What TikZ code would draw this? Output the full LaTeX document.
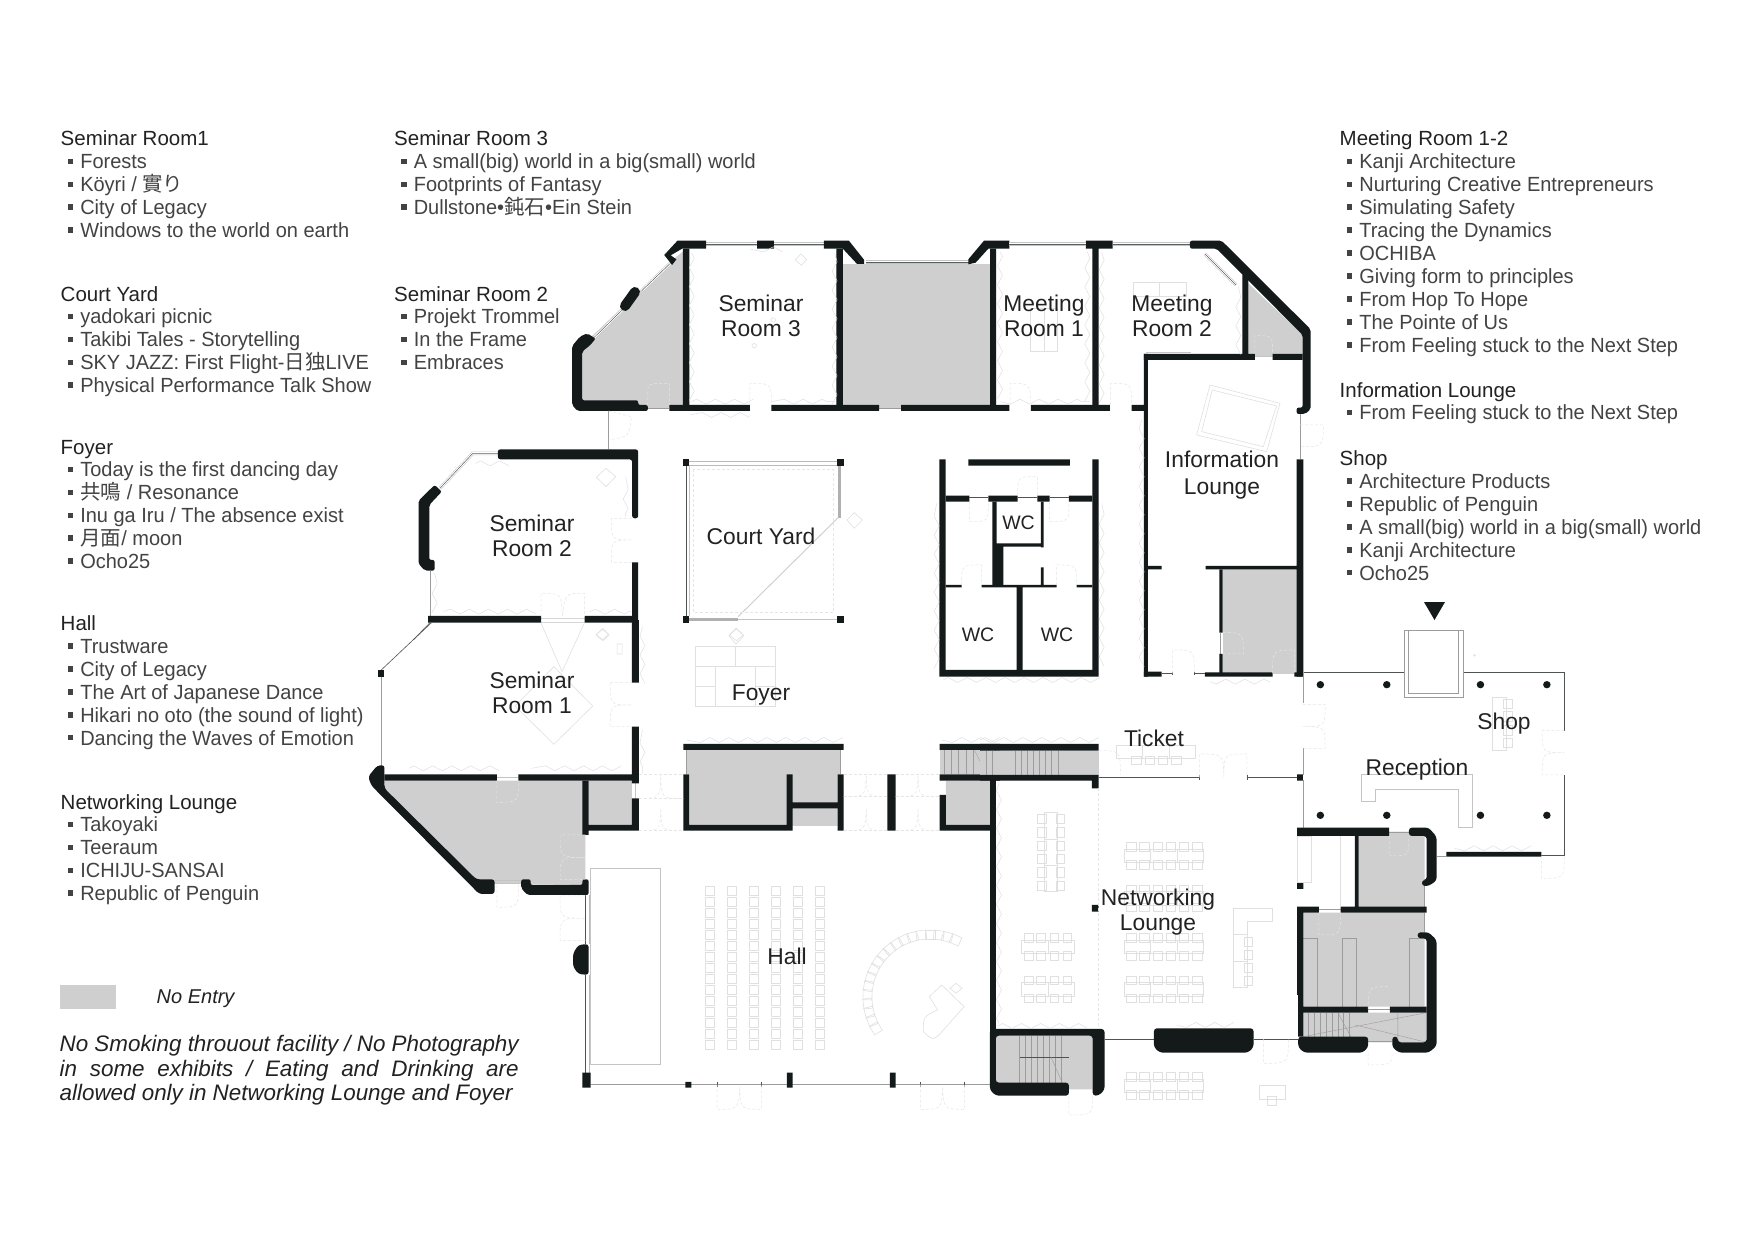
\documentclass[tikz,border=0pt]{standalone}
\usepackage{fontspec}
\setmainfont{Liberation Sans}
\newfontfamily\listfont[FakeStretch = 0.975]{Liberation Sans}
\newfontfamily\cjk{Noto Sans CJK JP}
\usetikzlibrary{decorations.pathmorphing}

\definecolor{wallc}{HTML}{141A1A}
\definecolor{nogoc}{HTML}{CFCFCF}
\definecolor{linec}{HTML}{9C9C9C}
\definecolor{faintc}{HTML}{E0E0E0}
\definecolor{doorc}{HTML}{E6E6E6}
\definecolor{textc}{HTML}{222222}

\tikzset{
	wall/.style = {fill = wallc, draw = none},
	wallline/.style = {draw = wallc, line join = round},
	thin line/.style = {draw = linec, line width = 0.9pt},
	dark line/.style = {draw = wallc!75, line width = 0.6pt},
	glass/.style = {draw = linec!60, line width = 3.4pt, postaction = {draw = white, line width = 2.4pt}, postaction = {draw = wallc!70, line width = 0.5pt}},
	furn/.style = {draw = faintc, line width = 0.6pt},
	door/.style = {draw = doorc, line width = 0.5pt, densely dashed},
	curtain/.style = {draw = faintc, line width = 0.5pt, decorate, decoration = {zigzag, segment length = 19pt, amplitude = 2.5pt}},
	tread/.style = {draw = linec, line width = 0.4pt},
	room/.style = {font = \fontsize{22.8}{25}\selectfont, text = textc, align = center, inner sep = 0pt},
	wc/.style = {font = \fontsize{19.5}{22}\selectfont, text = textc, inner sep = 0pt},
	listhead/.style = {anchor = base west, font = \fontsize{20.5}{23}\selectfont, text = textc, inner sep = 0pt},
	listitem/.style = {anchor = base west, font = \listfont\fontsize{20.5}{23}\selectfont, text = textc!85, inner sep = 0pt},
	note/.style = {anchor = base west, font = \fontsize{22.4}{24.6}\itshape, text = textc, inner sep = 0pt},
	partnw/.style = {shift = {(340,220)}, xscale = 0.3571, yscale = 0.3333},
	partne/.style = {shift = {(880,220)}, xscale = 0.3333, yscale = 0.3333},
	partsw/.style = {shift = {(360,620)}, xscale = 0.4082, yscale = 0.3333},
	partse/.style = {shift = {(980,640)}, xscale = 0.3953, yscale = 0.3333},
}

\newcommand{\itembox}{\rule[4.6pt]{5.6pt}{5.6pt}\hspace{7pt}}
\newcommand{\roomlist}[5]{%
	\node[listhead] (#3) at (#1, #2) {#4};
	\foreach \txt[count = \i] in {#5}
		\node[listitem] (#3\i) at ({#1 + 7}, {#2 + \i * 22.9}) {\itembox\txt};
}
% one table with chairs above and below, x is the left end
\newcommand{\tablerow}[2]{%
	\draw[furn] (#1, #2 - 20) rectangle ++(200, 40) (#1 + 65, #2 - 20) -- ++(0, 40) (#1 + 134, #2 - 20) -- ++(0, 40);
	\foreach \c in {5, 38, 72, 105, 138, 172} {
		\draw[furn] (#1 + \c, #2 - 40) rectangle ++(24, 26);
		\draw[furn] (#1 + \c, #2 + 14) rectangle ++(24, 26);
	}
}
\newcommand{\tableshort}[2]{%
	\draw[furn] (#1, #2 - 20) rectangle ++(134, 40) (#1 + 68, #2 - 20) -- ++(0, 40);
	\foreach \c in {7, 38, 72, 105} {
		\draw[furn] (#1 + \c, #2 - 40) rectangle ++(22, 26);
		\draw[furn] (#1 + \c, #2 + 14) rectangle ++(22, 26);
	}
}

\begin{document}
\begin{tikzpicture}[x = 1pt, y = -1pt]

\useasboundingbox (0,0) rectangle (1755, 1241);
\fill[white] (0,0) rectangle (1755, 1241);

% lists
\roomlist{60.5}{146}{srone}{Seminar Room1}{Forests, Köyri / {\cjk 實り}, City of Legacy, Windows to the world on earth}
\roomlist{60.5}{301}{court}{Court Yard}{yadokari picnic, Takibi Tales - Storytelling, SKY JAZZ: First Flight-{\cjk 日独}LIVE, Physical Performance Talk Show}
\roomlist{60.5}{454}{foyer}{Foyer}{Today is the first dancing day, {\cjk 共鳴} / Resonance, Inu ga Iru / The absence exist, {\cjk 月面}/ moon, Ocho25}
\roomlist{60.5}{630.5}{hall}{Hall}{Trustware, City of Legacy, The Art of Japanese Dance, Hikari no oto (the sound of light), Dancing the Waves of Emotion}
\roomlist{60.5}{809}{net}{Networking Lounge}{Takoyaki, Teeraum, ICHIJU-SANSAI, Republic of Penguin}
\roomlist{394}{146}{srthree}{Seminar Room 3}{A small(big) world in a big(small) world, Footprints of Fantasy, Dullstone•{\cjk 鈍石}•Ein Stein}
\roomlist{394}{301}{srtwo}{Seminar Room 2}{Projekt Trommel, In the Frame, Embraces}
\roomlist{1339.5}{146}{meet}{Meeting Room 1-2}{Kanji Architecture, Nurturing Creative Entrepreneurs, Simulating Safety, Tracing the Dynamics, OCHIBA, Giving form to principles, From Hop To Hope, The Pointe of Us, From Feeling stuck to the Next Step}
\roomlist{1339.5}{397}{info}{Information Lounge}{From Feeling stuck to the Next Step}
\roomlist{1339.5}{465.5}{shop}{Shop}{Architecture Products, Republic of Penguin, A small(big) world in a big(small) world, Kanji Architecture, Ocho25}

\fill[nogoc] (60,985) rectangle (116, 1008.5);
\node[note, font = \fontsize{20}{23}\itshape] (noentry) at (156.5, 1003) {No Entry};
\node[note] (rule1) at (59.5, 1051.5) {\makebox[459pt][s]{No Smoking throuout facility / No Photography}};
\node[note] (rule2) at (59.5, 1076) {\makebox[459pt][s]{in some exhibits / Eating and Drinking are}};
\node[note] (rule3) at (59.5, 1100.5) {\makebox[453pt][s]{allowed only in Networking Lounge and Foyer}};

% middle room, shared by two parts
\fill[nogoc] (843,264) rectangle (990, 408);
\draw[thin line] (843,408) -- (901,408);
\draw[glass] (866,262) -- (970,262);

% chairs round the piano
\foreach \a in {150, 158, ..., 296}
	\draw[furn, shift = {(930,997)}, rotate = -\a] (58,-5) rectangle (67,5);

% north west
\begin{scope}[partnw]
\fill[nogoc] (665,390) -- (925,125) -- (960,95) -- (960,565) -- (660,565) -- cycle;
\draw[glass] (1025,72) -- (1355,72);
\draw[glass] (925,130) -- (845,212) (792,268) -- (712,352);
\draw[glass] (280,805) -- (372,700) -- (442,700);
\draw[thin line] (862,565) -- (922,565) (752,573) -- (752,688) (253,1052) -- (253,1190);
\draw[thin line, draw = linec!40] (563,1195) -- (685,1195) (563,1207) -- (685,1207);
\draw[dark line] (252,1208) -- (205,1260);
\fill[wall] (1025,62) -- (945,62) -- (908,105) -- (930,135) -- (942,118) -- (926,106) -- (958,86) -- (1025,86) -- cycle;
\fill[wall] (960,86) rectangle (978,555) (1168,62) rectangle (1215,86) (1390,86) rectangle (1408,555);
\fill[wall] (1355,62) -- (1425,62) -- (1468,120) -- (1468,132) -- (1448,132) -- (1408,86) -- (1355,86) -- cycle;
\draw[wallline, line width = 10pt, line cap = round] (826,216) -- (798,258);
\fill[wall, rounded corners = 2pt] (716,356) -- (692,340) -- (672,350) -- (650,378) -- (650,555) -- (665,573) -- (862,573) -- (862,555) -- (835,555) -- (835,541) -- (678,541) -- (678,395) -- (700,376) -- cycle;
\fill[wall] (922,555) rectangle (1148,573) (1208,555) rectangle (1510,573);
\fill[wall, rounded corners = 2.5pt] (442,688) -- (835,688) -- (835,895) -- (818,895) -- (818,718) -- (442,718) -- cycle;
\fill[wall] (818,1027) rectangle (835,1260) (247,1188) rectangle (563,1208) (685,1188) rectangle (825,1208);
\fill[wall, rounded corners = 2pt] (265,795) -- (285,815) -- (250,855) -- (250,1020) -- (265,1020) -- (265,1052) -- (238,1052) -- (220,1032) -- (220,842) -- cycle;
\foreach \x/\y in {960/718, 1392/718, 960/1188, 1392/1188}
	\fill[wall] (\x,\y) rectangle ++(18,20);
\draw[thin line, draw = linec!70] (978,724) -- (1392,724) (978,735) -- (1392,735);
\draw[dark line] (970,738) -- (970,1188);
\draw[thin line, draw = linec!60] (978,738) -- (978,1188) (1115,1198) -- (1392,1198);
\draw[line width = 3pt, draw = linec!80] (1400,738) -- (1400,893) (978,1198) -- (1115,1198);
\draw[thin line, draw = linec!50] (1115,1190) -- (1395,893);
\draw[door] (990,748) rectangle (1382,1178);
\draw[furn] (1290,102) -- (1307,118) -- (1292,136) -- (1275,120) -- cycle;
\draw[furn] (1160,377) circle [radius = 6.5pt] (1213,300) circle [radius = 6.5pt];
\draw[furn] (745,745) -- (772,770) -- (745,800) -- (718,772) -- cycle;
\draw[furn] (1440,878) -- (1463,900) -- (1440,925) -- (1420,900) -- cycle;
\draw[furn] (735,1228) -- (752,1243) -- (735,1260) -- (718,1243) -- cycle;
\draw[furn] (1110,1225) -- (1130,1245) -- (1110,1262) -- (1090,1245) -- cycle;
\draw[curtain] (985,100) -- (985,545) (1385,100) -- (1385,545) (980,585) -- (1140,585) (1210,545) -- (1385,545);
\draw[curtain] (985,545) -- (1148,545) (1150,88) -- (1230,88) (800,770) -- (800,890);
\draw[curtain] (380,730) -- (470,730) (265,1060) -- (265,1185) (290,1175) -- (560,1175) (700,1175) -- (815,1175);
\draw[door] (862,555) -- (862,520) .. controls (862,490) .. (922,490) -- (922,555);
\draw[door] (1148,555) -- (1148,490) .. controls (1208,490) .. (1208,555);
\draw[door] (818,895) -- (760,895) .. controls (760,960) .. (818,960) .. controls (760,960) .. (760,1027) -- (818,1027);
\draw[door] (563,1190) -- (563,1120) .. controls (620,1120) .. (623,1190) .. controls (630,1120) .. (685,1120) -- (685,1190);
\draw[door] (752,573) -- (816,590) .. controls (810,650) .. (752,660);
\end{scope}

% north east
\begin{scope}[partne]
\fill[nogoc] (1105,190) -- (1268,345) -- (1268,410) -- (1105,410) -- cycle;
\fill[nogoc] (1028,1048) rectangle (1250,1362);
\fill[wall] (265,118) -- (312,62) -- (388,62) -- (388,86) -- (325,86) -- (287,128) -- (265,133) -- cycle;
\fill[wall] (330,86) rectangle (348,555) (618,62) rectangle (698,86) (637,86) rectangle (656,555);
\draw[glass] (388,72) -- (618,72) (698,72) -- (930,72);
\draw[glass] (975,102) -- (1068,195);
\draw[thin line, draw = linec!60] (1125,410) -- (1178,410) (798,396) -- (932,396);
\draw[thin line] (1260,582) -- (1260,718) (1022,1238) -- (1022,1302);
\fill[wall, rounded corners = 2pt] (930,62) -- (1025,62) -- (1292,328) -- (1292,568) -- (1275,582) -- (1250,582) -- (1250,563) -- (1268,563) -- (1268,345) -- (1010,86) -- (930,86) -- cycle;
\fill[wall] (1087,165) rectangle (1105,410) (792,402) rectangle (1125,420) (1178,402) rectangle (1268,420);
\fill[wall] (792,402) rectangle (804,1370) (755,555) rectangle (792,573) (63,555) rectangle (388,573) (453,555) rectangle (690,573);
\fill[wall] (1250,718) rectangle (1270,1370) (804,1038) rectangle (845,1048) (977,1038) rectangle (1250,1048);
\fill[wall] (1018,1048) rectangle (1028,1238) (1018,1302) rectangle (1028,1360);
\fill[wall] (792,1355) rectangle (845,1370) (975,1357) rectangle (1178,1370) (1243,1357) rectangle (1268,1370);
\draw[dark line] (845,1360) -- (878,1360) (943,1360) -- (975,1360) (878,1355) -- (878,1365) (943,1355) -- (943,1365);
% wc block
\fill[wall] (178,718) rectangle (197,1370) (637,718) rectangle (656,1370) (178,1350) rectangle (656,1370) (265,718) rectangle (570,737);
\fill[wall] (197,827) rectangle (268,845) (325,827) rectangle (413,845) (472,827) rectangle (509,845) (567,827) rectangle (637,845);
\draw[dark line] (268,832) -- (325,832) (413,832) -- (472,832) (509,832) -- (567,832);
\fill[wall] (337,845) rectangle (350,970) (483,845) rectangle (491,982) (350,970) rectangle (491,980) (337,970) rectangle (370,1095);
\fill[wall] (197,1095) rectangle (245,1102) (305,1095) rectangle (530,1102) (590,1095) rectangle (637,1102) (483,1042) rectangle (491,1095) (410,1102) rectangle (428,1350);
\draw[furn] (990,495) -- (1200,550) -- (1160,695) -- (950,645) -- cycle (997,510) -- (1190,558) -- (1150,680) -- (965,635) -- cycle;
\draw[furn] (760,187) rectangle (920,228) (838,187) -- (838,228) (450,265) rectangle (532,395) (492,265) -- (492,395);
\draw[curtain] (360,95) -- (360,545) (622,95) -- (622,545) (665,95) -- (665,545) (1075,200) -- (1075,400) (360,545) -- (630,545);
\draw[curtain] (190,1380) -- (650,1380) (170,850) -- (170,1340) (665,850) -- (665,1340) (785,600) -- (785,1350) (990,1385) -- (1170,1385);
\draw[door] (390,555) -- (390,490) .. controls (450,490) .. (453,555) (692,555) -- (692,490) .. controls (755,490) .. (755,555);
\draw[door] (268,845) -- (268,905) .. controls (325,905) .. (325,845) (413,827) .. controls (413,770) .. (472,770) -- (472,827);
\draw[door] (509,845) -- (509,905) .. controls (567,905) .. (567,845) (245,1095) .. controls (245,1035) .. (305,1035) -- (305,1095) (530,1095) -- (530,1035) .. controls (590,1035) .. (590,1095);
\draw[door] (1125,400) -- (1125,347) .. controls (1178,347) .. (1178,400) (1028,1302) -- (1090,1302) .. controls (1090,1238) .. (1028,1238);
\draw[door] (878,1360) -- (878,1290) .. controls (943,1290) .. (943,1360) (1178,1360) .. controls (1178,1290) .. (1243,1290) -- (1243,1360) (1260,615) -- (1330,615) .. controls (1330,680) .. (1260,680);
\end{scope}

% south west
\begin{scope}[partsw]
\fill[nogoc] (60,482) -- (552,482) -- (552,795) -- (285,790) -- (60,505) -- cycle;
\fill[nogoc] (560,482) rectangle (666,618) (800,390) rectangle (1178,463) (806,463) rectangle (1170,618) (1435,482) rectangle (1545,618);
\draw[thin line] (800,390) -- (800,463) (1178,390) -- (1178,463) (52,170) -- (52,440);
\draw[dark line] (175,8) -- (52,150);
\fill[wall] (45,150) rectangle (60,170);
\draw[thin line, draw = linec!60] (335,472) -- (388,472) (330,780) -- (395,780) (330,790) -- (395,790) (675,490) -- (675,535);
\fill[wall] (666,0) rectangle (683,188) (666,320) rectangle (683,490) (60,463) rectangle (335,482) (388,463) rectangle (683,482);
\fill[wall] (545,482) rectangle (560,645) (560,615) rectangle (683,632) (666,535) rectangle (683,615);
\fill[wall, rounded corners = 3pt] (60,435) -- (42,437) -- (20,470) -- (28,497) -- (292,822) -- (330,822) -- (330,778) -- (285,778) -- (60,505) -- cycle;
\fill[wall, rounded corners = 2pt] (395,778) -- (418,778) -- (418,795) -- (545,795) -- (545,778) -- (560,778) -- (560,825) -- (410,825) -- (395,805) -- cycle;
\draw[dark line] (553,825) -- (553,972) (553,1065) -- (553,1358);
\draw[thin line, draw = linec!70] (561,825) -- (561,972) (561,1065) -- (561,1358);
\fill[wall, rounded corners = 3pt] (560,972) -- (535,975) -- (522,1000) -- (522,1040) -- (535,1062) -- (560,1065) -- cycle;
\draw[thin line, line width = 1.4pt] (565,1394) -- (1545,1394);
\foreach \x in {875, 983, 1373, 1481}
	\draw[dark line] (\x,1386) -- (\x,1402);
\fill[wall] (545,1358) rectangle (565,1403) (797,1386) rectangle (812,1403) (1046,1358) rectangle (1060,1403) (1298,1358) rectangle (1312,1403);
\draw[thin line, draw = linec!60] (565,745) rectangle (737,1333);
% central block
\fill[wall] (792,372) rectangle (1185,390) (792,463) rectangle (806,632) (792,615) rectangle (1058,632) (1045,463) rectangle (1060,632) (1060,547) rectangle (1170,565) (1170,463) rectangle (1185,632);
\fill[wall] (1292,463) rectangle (1312,632) (1420,372) rectangle (1568,390) (1420,463) rectangle (1568,482) (1420,525) rectangle (1435,632) (1420,615) rectangle (1545,632);
\fill[nogoc] (1420,390) rectangle (1568,463);
\foreach \x in {1430, 1448, ..., 1568}
	\draw[tread] (\x,390) -- (\x,463);
\draw[tread] (1505,390) -- (1535,463);
% seats
\foreach \c in {857, 911, 965, 1019, 1073, 1127}
	\foreach \r in {0, ..., 14}
		\draw[furn] (\c - 11, 798 + \r * 33) rectangle ++(22, 27);
\draw[furn] (1395,1130) -- (1425,1095) -- (1480,1160) -- (1440,1215) .. controls (1405,1265) .. (1380,1235) .. controls (1380,1190) .. (1415,1170) -- cycle;
\draw[furn] (1445,1105) -- (1460,1090) -- (1475,1105) -- (1460,1120) -- cycle;
\draw[furn] (822,80) rectangle (1018,260) (920,80) -- (920,140) (822,140) -- (1018,140) (871,140) -- (871,260) (969,140) -- (969,260) (822,198) -- (871,198) (969,198) -- (1018,198);
\draw[furn] (475,140) -- (570,258) -- (475,373) -- (380,258) -- cycle;
\draw[furn] (443,8) -- (495,155) -- (550,8);
\draw[furn] (595,25) -- (610,45) -- (595,62) -- (578,45) -- cycle (630,72) rectangle (642,102) (921,25) -- (940,48) -- (921,72) -- (904,48) -- cycle;
\draw[curtain] (120,445) -- (330,445) (420,445) -- (630,445) (800,360) -- (1180,360) (1425,360) -- (1568,360) (692,20) -- (692,180) (692,330) -- (692,460);
\draw[door] (613,188) -- (666,188) (613,188) .. controls (613,255) .. (666,255) .. controls (613,255) .. (613,320) -- (666,320);
\draw[door] (683,463) -- (792,463) (683,535) -- (792,535) (683,632) -- (792,632) (1185,463) -- (1292,463) (1185,530) -- (1292,530) (1185,632) -- (1292,632) (1312,463) -- (1420,463) (1312,530) -- (1420,530) (1312,632) -- (1420,632);
\draw[door] (683,535) .. controls (735,535) .. (737,463) .. controls (738,535) .. (792,535) (683,632) .. controls (735,632) .. (737,565) .. controls (738,632) .. (792,632);
\draw[door] (1185,530) .. controls (1238,530) .. (1240,463) .. controls (1242,530) .. (1292,530) (1185,632) .. controls (1238,632) .. (1240,565) .. controls (1242,632) .. (1292,632);
\draw[door] (1312,530) .. controls (1365,530) .. (1367,463) .. controls (1369,530) .. (1420,530) (1312,632) .. controls (1365,632) .. (1367,565) .. controls (1369,632) .. (1420,632);
\draw[door] (335,482) -- (335,547) .. controls (388,547) .. (388,482) (552,645) -- (490,645) .. controls (490,712) .. (552,712) .. controls (490,712) .. (490,778) -- (552,778) (335,795) -- (335,862) .. controls (388,862) .. (388,795);
\draw[door] (553,828) -- (490,828) .. controls (490,895) .. (553,895) .. controls (490,895) .. (490,962) -- (553,962);
\draw[door] (875,1394) -- (875,1468) .. controls (928,1468) .. (930,1400) .. controls (932,1468) .. (983,1468) -- (983,1394) (1373,1394) -- (1373,1468) .. controls (1425,1468) .. (1427,1400) .. controls (1430,1468) .. (1481,1468) -- (1481,1394);
\end{scope}

% south east
\begin{scope}[partse]
\fill[nogoc] (0,332) rectangle (300,405);
\fill[nogoc] (40,1187) rectangle (285,1348) (958,575) rectangle (1125,808) (818,818) rectangle (1125,1100) (818,1118) rectangle (1130,1207);
\foreach \x in {15, 32, 88, 105, 120, 135, 150, 165, 180, 198}
	\draw[tread] (\x,332) -- (\x,405);
\foreach \x in {100, 115, ..., 215}
	\draw[tread] (\x,1187) -- (\x,1328);
\draw[dark line] (100,1252) -- (225,1252);
\draw[tread] (180,1252) -- (208,1328);
\foreach \x in {830, 845, ..., 935}
	\draw[tread] (\x,1118) -- (\x,1190);
\draw[tread] (818,1190) -- (1130,1118) (950,1155) -- (1130,1207) (1057,1118) -- (1057,1207) (905,1118) -- (938,1190);
\draw[tread] (853,895) -- (853,1100) (818,895) -- (853,895) (917,1100) -- (917,895) -- (952,895) -- (952,1100) (1086,1100) -- (1086,895) -- (1125,895);
\fill[wall] (0,312) rectangle (300,332) (0,405) rectangle (300,422) (283,422) rectangle (300,445) (283,795) rectangle (300,815);
\fill[wall] (25,405) rectangle (40,1340);
\fill[wall, rounded corners = 3pt] (25,1167) -- (315,1167) -- (315,1350) -- (300,1367) -- (285,1367) -- (285,1187) -- (40,1187) -- (40,1328) -- (225,1328) -- (225,1367) -- (40,1367) -- (25,1350) -- cycle;
\fill[wall, rounded corners = 3pt] (440,1165) -- (692,1165) -- (692,1222) -- (678,1238) -- (455,1238) -- (440,1222) -- cycle;
\draw[dark line] (315,1197) -- (440,1197) (692,1197) -- (805,1197) (300,412) -- (555,412) (555,404) -- (555,420) (675,412) -- (802,412) (675,404) -- (675,420);
\draw[dark line] (817,97) -- (1073,97) (1222,97) -- (1478,97) -- (1478,272) (1478,405) -- (1478,647) -- (1420,647);
\draw[thin line] (817,97) -- (817,190) (817,325) -- (817,405) (817,420) -- (817,563) (1155,650) -- (1180,650) (1035,576) -- (1085,576) (1125,738) -- (1125,800) (1125,818) -- (1125,877) (857,808) -- (912,808) (982,1108) -- (1037,1108) (982,1203) -- (1043,1203);
\fill[wall] (802,403) rectangle (817,422) (802,728) rectangle (818,747) (1180,636) rectangle (1420,650);
\fill[wall] (802,563) rectangle (1035,588) (948,588) rectangle (958,800) (802,800) rectangle (857,818) (912,800) rectangle (1130,818) (802,818) rectangle (818,1065) (805,1065) rectangle (818,1190) (805,1100) rectangle (982,1118) (1037,1100) rectangle (1130,1118);
\fill[wall, rounded corners = 3pt] (1085,563) -- (1135,563) -- (1155,590) -- (1155,722) -- (1135,738) -- (1118,738) -- (1118,720) -- (1130,720) -- (1130,588) -- (1085,588) -- cycle;
\fill[wall, rounded corners = 3pt] (1107,877) -- (1135,877) -- (1155,900) -- (1155,1218) -- (1135,1238) -- (1060,1238) -- (1043,1222) -- (1043,1190) -- (1057,1190) -- (1057,1207) -- (1130,1207) -- (1130,895) -- (1107,895) -- cycle;
\fill[wall, rounded corners = 3pt] (805,1190) -- (982,1190) -- (982,1222) -- (968,1238) -- (820,1238) -- (805,1222) -- cycle;
\foreach \x in {861, 1029, 1266, 1434}
	\foreach \y in {134, 526}
		\fill[wallc] (\x,\y) ellipse [x radius = 9.5, y radius = 11];
\draw[thin line] (1073,-30) rectangle (1222,172) (1085,-30) rectangle (1210,160);
\draw[furn, draw = linec!60] (965,403) -- (1245,403) -- (1245,563) -- (1210,563) -- (1210,447) -- (1000,447) -- (1000,485) -- (965,485) -- cycle;
\draw[furn] (802,588) rectangle (838,728) (912,588) -- (912,800);
\draw[furn] (1296,172) rectangle (1332,330) (1325,178) rectangle (1347,205) (1325,215) rectangle (1347,245) (1325,255) rectangle (1347,285) (1325,295) rectangle (1347,322);
\draw[furn] (1251,46) circle [radius = 2.5pt];
\tablerow{366}{648}
\tablerow{366}{775}
\tablerow{366}{920}
\tablerow{366}{1048}
\tablerow{366}{1338}
\tableshort{105}{920}
\tableshort{105}{1048}
\draw[furn] (345,316) rectangle (545,355) (411,316) -- (411,355) (479,316) -- (479,355);
\foreach \c in {383, 417, 450, 484}
	\draw[furn] (\c,350) rectangle ++(24,24);
\draw[furn] (162,517) rectangle (196,755) (162,597) -- (196,597) (162,677) -- (196,677);
\foreach \r in {0, ..., 5} {
	\draw[furn] (145,523 + \r * 40) rectangle ++(22,28);
	\draw[furn] (192,523 + \r * 40) rectangle ++(22,28);
}
\draw[furn] (640,805) -- (740,805) -- (740,845) -- (675,845) -- (675,1042) -- (640,1042) -- cycle (640,883) -- (675,883) (640,963) -- (675,963);
\foreach \y in {892, 930, 970, 1008}
	\draw[furn] (668,\y) rectangle ++(22,27);
\draw[furn] (707,1336) rectangle (773,1378) (727,1370) rectangle (750,1396);
\draw[door] (300,445) -- (300,1165);
\draw[curtain] (45,1158) -- (285,1158) (0,300) -- (300,300) (497,1155) -- (640,1155) (1200,625) -- (1400,625) (48,430) -- (48,1150);
\draw[door] (555,412) -- (555,342) .. controls (615,342) .. (617,412) .. controls (617,342) .. (675,342) -- (675,412);
\draw[door] (817,193) -- (873,193) .. controls (873,260) .. (817,260) .. controls (873,260) .. (873,325) -- (817,325);
\draw[door] (1478,272) -- (1422,272) .. controls (1422,338) .. (1478,338) .. controls (1422,338) .. (1422,405) -- (1478,405);
\draw[door] (300,332) .. controls (355,332) .. (355,405) (1035,588) -- (1035,648) .. controls (1085,648) .. (1085,588) (857,818) -- (857,885) .. controls (912,885) .. (912,818);
\draw[door] (982,1108) .. controls (982,1040) .. (1037,1040) (982,1238) -- (982,1275) .. controls (1040,1275) .. (1043,1238) (717,1197) -- (717,1270) .. controls (780,1270) .. (780,1197) (225,1367) -- (225,1425) .. controls (285,1425) .. (285,1367);
\draw[door] (1420,647) -- (1420,715) .. controls (1478,715) .. (1478,650);
\end{scope}

% entrance mark
\fill[wallc] (1424,602) -- (1445,602) -- (1434.5,620) -- cycle;

% room names
\node[room] (labelsr3) at (761, 316) {Seminar\\Room 3};
\node[room] (labelmr1) at (1044, 316) {Meeting\\Room 1};
\node[room] (labelmr2) at (1172, 316) {Meeting\\Room 2};
\node[room, font = \fontsize{22.8}{27}\selectfont] (labelinfo) at (1222, 475) {Information\\Lounge};
\node[room] (labelsr2) at (532, 535.5) {Seminar\\Room 2};
\node[room] (labelcourt) at (761, 536) {Court Yard};
\node[wc] (labelwc1) at (1018.5, 523) {WC};
\node[wc] (labelwc2) at (978, 635) {WC};
\node[wc] (labelwc3) at (1057, 635) {WC};
\node[room] (labelsr1) at (532, 693) {Seminar\\Room 1};
\node[room] (labelfoyer) at (761, 695) {Foyer};
\node[room] (labelticket) at (1154, 738) {Ticket};
\node[room] (labelshop) at (1504, 723.5) {Shop};
\node[room] (labelrec) at (1417, 769.5) {Reception};
\node[room] (labelhall) at (787, 956) {Hall};
\node[room] (labelnet) at (1158, 912.5) {Networking\\Lounge};

\end{tikzpicture}
\end{document}
